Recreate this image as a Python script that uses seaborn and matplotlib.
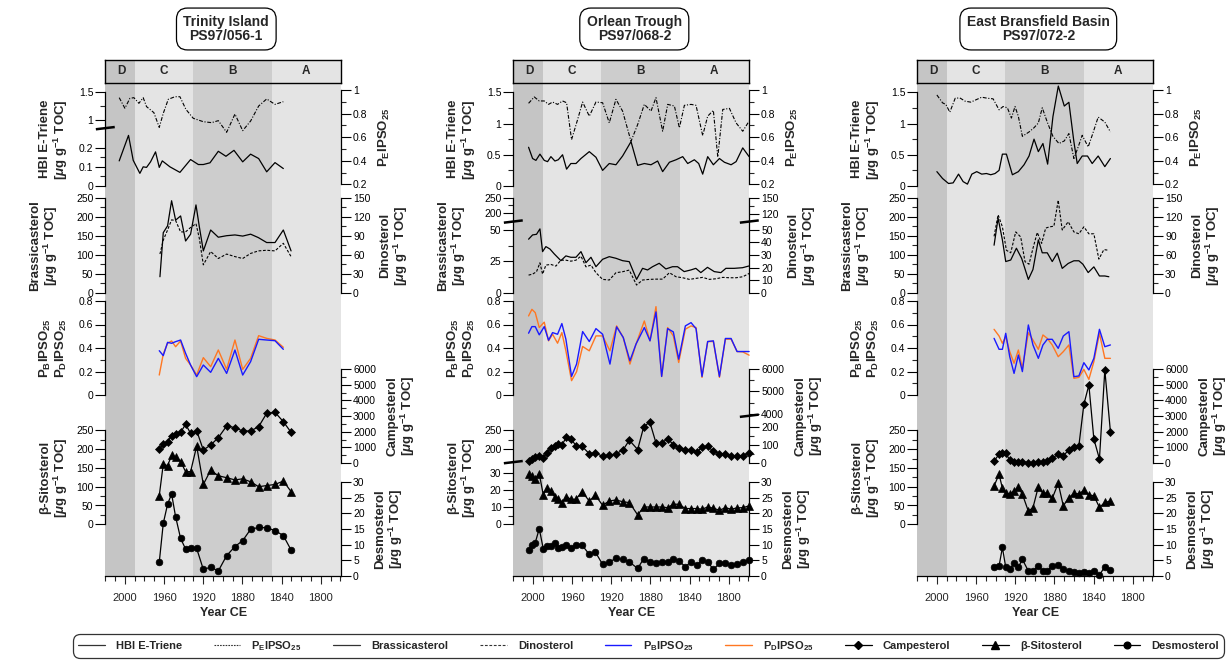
import numpy as np
import matplotlib
matplotlib.use("Agg")
import matplotlib.pyplot as plt
import seaborn as sns
from matplotlib.ticker import FixedLocator, NullFormatter
from matplotlib.lines import Line2D

sns.set_theme(style="white")
plt.rcParams['font.family'] = ['Liberation Sans', 'DejaVu Sans']
plt.rcParams['mathtext.fontset'] = 'custom'
plt.rcParams['mathtext.rm'] = 'Liberation Sans:bold'
plt.rcParams['mathtext.bf'] = 'Liberation Sans:bold'
plt.rcParams['mathtext.it'] = 'Liberation Sans:italic:bold'

# ---------------- DATA ----------------
titles = ["Trinity Island\nPS97/056-1", "Orlean Trough\nPS97/068-2", "East Bransfield Basin\nPS97/072-2"]
zone_edges = [2020, 1990, 1930, 1850, 1779]
zone_names = ["D", "C", "B", "A"]
zone_label_years = [2004, 1960, 1890, 1815]

# Panel 1 - Trinity Island
p1_hbi_year = [2005.8, 1996.3, 1991.5, 1984.7, 1981.3, 1977.9, 1973.8, 1968.7, 1964.9, 1961.8, 1954.0, 1943.8,
               1932.9, 1925.0, 1919.9, 1913.1, 1904.6, 1896.8, 1888.6, 1879.7, 1871.6, 1863.4, 1855.2, 1846.7, 1838.2]
p1_hbi = [0.131, 0.264, 0.134, 0.066, 0.100, 0.097, 0.126, 0.178, 0.097, 0.131, 0.100, 0.071,
          0.138, 0.112, 0.112, 0.121, 0.181, 0.155, 0.186, 0.126, 0.166, 0.143, 0.074, 0.122, 0.091]
p1_pe_year = [2005.8, 2000.0, 1994.9, 1990.8, 1985.7, 1981.3, 1977.9, 1970.4, 1964.9, 1960.8, 1955.7, 1948.9,
              1943.8, 1937.7, 1930.2, 1919.9, 1911.4, 1904.6, 1896.1, 1887.6, 1879.7, 1871.6, 1863.4, 1855.2, 1846.7, 1838.2]
p1_pe = [0.935, 0.845, 0.929, 0.935, 0.887, 0.935, 0.859, 0.808, 0.683, 0.802, 0.921, 0.943,
         0.943, 0.836, 0.760, 0.731, 0.723, 0.740, 0.641, 0.796, 0.655, 0.737, 0.864, 0.924, 0.878, 0.901]
p1_bras_year = [1964.2, 1960.8, 1956.4, 1952.3, 1948.2, 1943.1, 1938.0, 1932.9, 1927.4, 1924.0, 1919.9,
                1912.4, 1904.6, 1896.1, 1887.6, 1879.7, 1871.6, 1863.7, 1855.2, 1846.7, 1838.2, 1830.3]
p1_bras = [42, 158, 176, 242, 191, 202, 136, 154, 231, 174, 110, 165, 146, 150, 152, 149, 154, 145, 132, 132, 165, 110]
p1_dino = [61, 83, 99, 115, 114, 96, 96, 103, 109, 86, 44, 65, 54, 61, 57, 54, 62, 66, 67, 66, 78, 57]
p1_ipso_year = [1964.9, 1960.8, 1956.4, 1952.3, 1948.2, 1943.1, 1938.0, 1932.9, 1926.7, 1919.9,
                1912.4, 1904.6, 1896.1, 1887.6, 1879.7, 1871.6, 1863.4, 1855.2, 1846.7, 1838.2]
p1_pb = [0.377, 0.335, 0.448, 0.440, 0.454, 0.468, 0.355, 0.255, 0.156, 0.255,
         0.193, 0.312, 0.184, 0.383, 0.170, 0.284, 0.474, 0.468, 0.462, 0.389]
p1_pd = [0.170, 0.349, 0.440, 0.460, 0.411, 0.460, 0.312, 0.255, 0.170, 0.318,
         0.241, 0.383, 0.218, 0.468, 0.218, 0.312, 0.505, 0.482, 0.468, 0.406]
p1_ster_year = [1964.9, 1960.8, 1956.4, 1952.3, 1948.2, 1943.1, 1938.0, 1932.9, 1926.7, 1919.9, 1912.4,
                1904.6, 1896.1, 1887.6, 1879.7, 1871.6, 1863.4, 1855.2, 1846.7, 1838.2, 1830.3]
p1_camp = [872, 1213, 1362, 1745, 1851, 1958, 2468, 1894, 2064, 830, 1149,
           1617, 2362, 2256, 2043, 2043, 2320, 3171, 3235, 2639, 1958]
p1_sito = [76, 160, 156, 183, 180, 167, 140, 140, 208, 106, 144, 129, 124, 118, 121, 113, 100, 103, 106, 115, 87]
p1_desmo = [4.4, 16.8, 22.9, 26.2, 18.9, 12.0, 8.6, 8.8, 8.8, 2.1, 2.8, 1.6, 6.5, 9.4, 11.3, 14.9, 15.5, 15.4, 14.5, 12.9, 8.3]

# Panel 2 - Orlean Trough
p2_hbi_year = [2004.4, 2000.3, 1996.9, 1992.8, 1988.4, 1985.0, 1981.6, 1977.5, 1974.1, 1969.7, 1965.6, 1961.2,
               1956.0, 1950.9, 1942.4, 1935.6, 1928.8, 1922.0, 1915.2, 1908.4, 1899.8, 1893.0, 1886.2, 1879.4,
               1872.6, 1867.5, 1860.6, 1853.8, 1847.0, 1841.9, 1835.1, 1830.7, 1826.6, 1821.5, 1815.7, 1809.5,
               1804.4, 1797.6, 1792.5, 1785.7, 1779.2]
p2_hbi = [0.62, 0.44, 0.41, 0.51, 0.41, 0.39, 0.47, 0.40, 0.42, 0.50, 0.27, 0.36, 0.36, 0.44, 0.55, 0.46,
          0.25, 0.36, 0.34, 0.48, 0.71, 0.33, 0.36, 0.34, 0.40, 0.23, 0.38, 0.42, 0.47, 0.36, 0.42, 0.36,
          0.19, 0.47, 0.34, 0.44, 0.38, 0.34, 0.39, 0.61, 0.47]
p2_pe_year = [2004.4, 1998.6, 1993.5, 1988.4, 1984.0, 1979.9, 1974.8, 1969.7, 1965.6, 1960.5, 1954.3, 1949.2,
              1942.4, 1935.6, 1928.8, 1922.0, 1915.2, 1908.4, 1899.8, 1893.0, 1886.2, 1879.4, 1874.3, 1867.5,
              1862.3, 1855.5, 1850.4, 1845.3, 1838.5, 1833.4, 1826.6, 1821.5, 1815.7, 1811.2, 1806.1, 1799.3,
              1792.5, 1785.7, 1779.2]
p2_pe = [0.887, 0.941, 0.907, 0.907, 0.878, 0.898, 0.878, 0.907, 0.892, 0.579, 0.750, 0.898, 0.778,
         0.898, 0.892, 0.721, 0.921, 0.821, 0.565, 0.707, 0.878, 0.821, 0.935, 0.650, 0.878, 0.864,
         0.679, 0.870, 0.878, 0.870, 0.613, 0.778, 0.827, 0.431, 0.835, 0.844, 0.721, 0.650, 0.736]
p2_bras_year = [2004.4, 2000.3, 1996.3, 1992.8, 1990.1, 1986.7, 1982.6, 1978.2, 1971.4, 1966.3, 1961.2, 1956.0,
                1950.9, 1945.8, 1940.7, 1935.6, 1928.8, 1922.0, 1915.2, 1908.4, 1901.6, 1894.1, 1888.0, 1882.9,
                1877.8, 1871.0, 1864.2, 1857.4, 1852.3, 1845.5, 1838.7, 1833.6, 1828.5, 1821.7, 1814.8, 1808.0,
                1802.9, 1794.4, 1785.9, 1779.2]
p2_bras = [42.6, 46.0, 46.5, 50.8, 32.7, 36.7, 34.8, 30.9, 25.5, 29.3, 28.2, 28.2, 32.7, 23.9, 28.2, 20.7,
           26.6, 28.7, 27.4, 25.5, 24.7, 10.6, 19.4, 18.1, 20.7, 23.4, 18.9, 20.7, 20.7, 16.8, 18.1, 19.4,
           16.0, 20.2, 16.8, 16.0, 19.4, 19.4, 19.9, 21.3]
p2_dino_year = [2004.4, 2000.3, 1996.3, 1992.8, 1990.1, 1986.7, 1981.6, 1976.5, 1971.4, 1966.3, 1961.2, 1956.0,
                1950.9, 1945.8, 1940.7, 1935.6, 1928.8, 1922.0, 1915.2, 1908.4, 1901.6, 1894.1, 1888.0, 1881.2,
                1874.3, 1867.5, 1860.6, 1853.8, 1847.0, 1840.2, 1833.4, 1826.6, 1819.8, 1813.0, 1806.1, 1799.3,
                1792.5, 1785.7, 1779.2]
p2_dino = [14.0, 14.8, 16.7, 23.8, 14.8, 22.0, 22.5, 21.2, 25.9, 25.9, 25.1, 25.9, 29.1, 20.6, 22.0, 15.9,
           10.6, 10.1, 15.9, 16.7, 18.0, 6.1, 10.1, 10.6, 10.8, 10.8, 15.9, 12.7, 11.9, 10.6, 11.4, 12.2,
           10.6, 11.1, 12.2, 11.9, 11.9, 12.7, 15.3]
p2_ipso_year = [2004.4, 2001.0, 1997.6, 1993.5, 1988.4, 1984.0, 1979.9, 1974.8, 1970.4, 1966.3, 1960.5, 1955.4,
                1949.2, 1942.4, 1935.6, 1928.8, 1921.3, 1914.5, 1907.7, 1900.9, 1894.7, 1886.2, 1880.4, 1874.3,
                1868.5, 1862.4, 1856.6, 1851.1, 1844.3, 1838.5, 1833.4, 1827.3, 1821.5, 1815.7, 1809.5, 1803.4,
                1797.6, 1791.5, 1785.7, 1779.2]
p2_pb = [0.526, 0.582, 0.582, 0.512, 0.582, 0.466, 0.531, 0.517, 0.608, 0.475, 0.158, 0.263, 0.540, 0.455,
         0.565, 0.517, 0.263, 0.580, 0.489, 0.291, 0.433, 0.574, 0.461, 0.707, 0.158, 0.565, 0.537, 0.305,
         0.588, 0.616, 0.565, 0.158, 0.455, 0.461, 0.158, 0.481, 0.481, 0.370, 0.370, 0.370]
p2_pd = [0.673, 0.729, 0.701, 0.574, 0.620, 0.461, 0.517, 0.441, 0.531, 0.376, 0.122, 0.198, 0.413, 0.376,
         0.503, 0.503, 0.376, 0.588, 0.489, 0.263, 0.433, 0.630, 0.461, 0.752, 0.158, 0.574, 0.503, 0.277,
         0.560, 0.588, 0.574, 0.150, 0.455, 0.455, 0.150, 0.475, 0.475, 0.370, 0.367, 0.339]
p2_ster_year = [2004.4, 2001.0, 1997.6, 1993.5, 1989.4, 1986.0, 1981.9, 1977.9, 1974.1, 1970.0, 1965.9, 1961.2,
                1956.0, 1949.9, 1942.4, 1936.3, 1928.8, 1922.0, 1915.2, 1907.7, 1901.5, 1893.0, 1886.9, 1880.7,
                1874.3, 1868.5, 1862.4, 1856.6, 1851.1, 1844.3, 1838.5, 1832.7, 1827.3, 1821.5, 1815.7, 1809.5,
                1803.4, 1797.6, 1791.5, 1785.7, 1779.6]
p2_camp = [13, 22, 32, 37, 28, 56, 84, 93, 108, 103, 144, 135, 97, 93, 52, 56, 37, 43, 50, 75, 127, 75, 200,
           230, 112, 112, 135, 103, 84, 75, 75, 60, 88, 93, 65, 52, 52, 37, 37, 41, 56]
p2_sito = [29.2, 28.3, 26.3, 29.6, 17.2, 20.9, 19.5, 16.2, 15.0, 12.7, 16.2, 14.6, 14.6, 19.1, 13.6, 17.0,
           11.1, 13.6, 14.2, 13.1, 12.7, 5.5, 10.1, 10.1, 10.1, 10.1, 9.7, 11.7, 11.7, 9.2, 9.2, 9.2, 8.8,
           10.1, 9.4, 8.2, 9.7, 8.8, 9.6, 9.7, 10.7]
p2_desmo = [8.3, 9.8, 10.6, 15.1, 8.7, 9.6, 9.6, 10.4, 9.0, 9.4, 9.8, 9.0, 9.9, 9.9, 6.9, 7.7, 3.7, 4.5, 5.6,
            5.3, 4.5, 2.4, 5.5, 4.5, 4.3, 4.5, 4.5, 5.5, 4.8, 3.0, 4.5, 3.4, 5.1, 4.5, 2.1, 4.0, 4.3, 3.5,
            3.7, 4.5, 5.1]

# Panel 3 - East Bransfield Basin
p3_hbi_year = [2000.0, 1994.2, 1988.1, 1983.4, 1977.9, 1973.2, 1968.8, 1964.3, 1959.3, 1954.2, 1949.4, 1945.0,
               1940.6, 1936.5, 1933.1, 1929.0, 1922.9, 1916.8, 1911.0, 1905.9, 1900.8, 1896.4, 1891.7, 1886.9,
               1881.5, 1876.0, 1869.9, 1865.2, 1860.1, 1856.7, 1851.6, 1846.2, 1841.4, 1835.3, 1828.5, 1822.8]
p3_hbi = [0.23, 0.12, 0.04, 0.05, 0.19, 0.07, 0.03, 0.19, 0.23, 0.19, 0.20, 0.18, 0.20, 0.25, 0.51, 0.51,
          0.18, 0.23, 0.34, 0.48, 0.75, 0.55, 0.68, 0.35, 1.11, 1.60, 1.28, 1.34, 0.71, 0.36, 0.48, 0.48,
          0.36, 0.48, 0.31, 0.44]
p3_pe_year = [2000.0, 1994.2, 1990.8, 1986.8, 1981.3, 1976.6, 1971.1, 1965.4, 1960.3, 1954.2, 1948.4, 1942.6,
              1936.5, 1932.4, 1928.0, 1923.9, 1920.2, 1916.8, 1912.7, 1905.9, 1900.8, 1896.4, 1892.4, 1887.3,
              1881.5, 1875.4, 1869.9, 1865.2, 1860.1, 1855.7, 1851.6, 1845.5, 1841.4, 1835.3, 1828.5, 1822.8]
p3_pe = [0.958, 0.891, 0.877, 0.812, 0.930, 0.933, 0.905, 0.897, 0.916, 0.939, 0.930, 0.925, 0.832, 0.860,
         0.849, 0.762, 0.860, 0.776, 0.607, 0.644, 0.680, 0.720, 0.849, 0.728, 0.607, 0.546, 0.568, 0.630,
         0.419, 0.517, 0.616, 0.517, 0.616, 0.770, 0.728, 0.644]
p3_bras_year = [1941.6, 1937.5, 1933.1, 1929.7, 1924.6, 1918.8, 1913.4, 1906.6, 1901.9, 1896.4, 1892.4, 1887.3,
                1882.2, 1877.1, 1872.0, 1865.9, 1860.1, 1855.0, 1850.9, 1845.5, 1839.7, 1834.0, 1828.5, 1824.4]
p3_bras = [125, 196, 139, 82, 86, 117, 90, 35, 61, 139, 105, 105, 82, 104, 64, 77, 84, 84, 75, 53, 68, 44, 44, 42]
p3_dino_year = [1941.6, 1937.5, 1933.1, 1929.0, 1924.6, 1919.5, 1914.4, 1910.0, 1905.9, 1901.9, 1897.5, 1893.0,
                1888.9, 1884.9, 1880.5, 1876.1, 1872.0, 1865.9, 1860.1, 1855.0, 1849.9, 1844.8, 1839.7, 1834.6,
                1829.5, 1824.4]
p3_dino = [89, 123, 104, 67, 63, 96, 88, 49, 45, 70, 95, 78, 102, 104, 105, 146, 99, 112, 96, 93, 104, 93,
           93, 53, 68, 67]
p3_ster_year = [1941.6, 1936.5, 1933.1, 1929.7, 1925.6, 1921.2, 1916.8, 1912.7, 1906.6, 1901.9, 1896.4, 1891.7,
                1887.3, 1882.2, 1876.1, 1870.9, 1865.2, 1860.1, 1855.0, 1849.9, 1844.8, 1839.7, 1834.0, 1828.5,
                1822.8]
p3_pb = [0.482, 0.389, 0.389, 0.525, 0.326, 0.184, 0.340, 0.199, 0.596, 0.426, 0.312, 0.426, 0.474, 0.474,
         0.397, 0.502, 0.539, 0.156, 0.162, 0.275, 0.213, 0.312, 0.559, 0.411, 0.426]
p3_pd = [0.559, 0.502, 0.440, 0.496, 0.369, 0.270, 0.383, 0.227, 0.530, 0.468, 0.389, 0.511, 0.482, 0.426,
         0.326, 0.369, 0.426, 0.142, 0.150, 0.218, 0.133, 0.284, 0.525, 0.312, 0.312]
p3_camp = [128, 553, 660, 617, 192, 85, 85, 85, 21, 21, 85, 85, 149, 298, 575, 468, 830, 1000, 1107, 3745,
           4980, 1532, 255, 5937, 2000]
p3_sito = [102, 133, 96, 84, 80, 89, 98, 80, 35, 44, 100, 82, 84, 69, 109, 49, 71, 82, 81, 90, 78, 76, 45, 58, 62]
p3_desmo = [2.8, 3.2, 9.1, 2.8, 2.2, 4.0, 2.8, 5.3, 1.6, 1.6, 3.2, 1.6, 1.6, 3.2, 3.5, 2.1, 1.6, 1.2, 1.1, 1.2,
            1.1, 1.6, 0.3, 3.0, 1.9]

# ---------------- LAYOUT helpers ----------------
W, H = 1232, 660
fig = plt.figure(figsize=(W / 100, H / 100), dpi=100)

C_LIGHT = "#e4e4e4"
C_MID = "#cdcdcd"
C_DARK = "#c5c5c5"
zone_colors = [C_DARK, C_LIGHT, C_MID, C_LIGHT]
BLUE = "#1a1aff"
ORANGE = "#ff7722"
TICK_FS = 7.5
LAB_FS = 9.5
UG = "[$\\mu$g g$^{-1}$ TOC]"


def fig_rect(left, top, width, bottom):
    return [left / W, 1 - bottom / H, width / W, (bottom - top) / H]


def pw(xp, fp):
    xp = np.asarray(xp, float)
    fp = np.asarray(fp, float)

    def f(v):
        v = np.asarray(v, float)
        out = np.interp(v, xp, fp)
        s0 = (fp[1] - fp[0]) / (xp[1] - xp[0])
        s1 = (fp[-1] - fp[-2]) / (xp[-1] - xp[-2])
        out = np.where(v < xp[0], fp[0] + (v - xp[0]) * s0, out)
        out = np.where(v > xp[-1], fp[-1] + (v - xp[-1]) * s1, out)
        return out
    return f


def track(left, width, top, bottom, side, ylim, majors, minors, label, label_x,
          brk=None, fmt=None):
    ax = fig.add_axes(fig_rect(left, top, width, bottom))
    ax.patch.set_alpha(0)
    for s in ax.spines.values():
        s.set_visible(False)
    ax.spines[side].set_visible(True)
    ax.spines[side].set_linewidth(0.9)
    ax.spines[side].set_color("black")
    if brk is not None:
        dpts, spts = brk
        ax.set_yscale('function', functions=(pw(dpts, spts), pw(spts, dpts)))
    ax.set_xlim(zone_edges[0], zone_edges[-1])
    ax.set_ylim(*ylim)
    ax.xaxis.set_visible(False)
    ax.yaxis.set_ticks_position(side)
    ax.yaxis.set_label_position(side)
    ax.yaxis.set_major_locator(FixedLocator(majors))
    ax.yaxis.set_minor_locator(FixedLocator(minors))
    ax.yaxis.set_minor_formatter(NullFormatter())
    if fmt is not None:
        ax.set_yticklabels(fmt)
    ax.tick_params(axis='y', which='major', direction='out', length=7, width=0.8, pad=1.5,
                   labelsize=TICK_FS, colors='black')
    ax.tick_params(axis='y', which='minor', direction='out', length=3.5, width=0.8)
    ax.set_ylabel(label, fontsize=LAB_FS, fontweight='bold', linespacing=1.05)
    ax.yaxis.set_label_coords(label_x, 0.5)
    ax.grid(False)
    if brk is not None:
        dpts, spts = brk
        f = (spts[1] + spts[2]) / 2.0 / spts[-1]
        xs = 0.0 if side == 'left' else 1.0
        ax.plot([xs - 0.04, xs + 0.04], [f - 0.012, f + 0.012], transform=ax.transAxes,
                color='black', lw=1.8, clip_on=False, solid_capstyle='butt')
    return ax


def line(ax, x, y, color='black', ls='-', lw=0.9, marker=None, ms=4.5):
    sns.lineplot(x=x, y=y, ax=ax, color=color, linestyle=ls, linewidth=lw, sort=False,
                 estimator=None, marker=marker, markersize=ms, markeredgecolor=color,
                 markeredgewidth=0.5, legend=False)
    for l in ax.lines:
        l.set_clip_on(False)
    ax.set_xlabel("")


PE_LS = (0, (3.5, 1.5, 1, 1.5))
DINO_LS = (0, (2.5, 1.5))

# Vertical positions (pixels)
Y_HEADER = (60, 83)
Y_BOTTOM = 576
T_HBI = (92.3, 186)
T_PE = (90, 184.3)
T_BRAS = (197.7, 292.7)
T_IPSO = (301, 395)
T_CAMP = (369, 463)
T_SITO = (430.3, 524.3)
T_DESMO = (482, 576)

panels = [
    dict(left=105.3, data=dict(hbi=(p1_hbi_year, p1_hbi), pe=(p1_pe_year, p1_pe),
                               bras=(p1_bras_year, p1_bras), dino=(p1_bras_year, p1_dino),
                               pb=(p1_ipso_year, p1_pb), pd=(p1_ipso_year, p1_pd),
                               camp=(p1_ster_year, p1_camp), sito=(p1_ster_year, p1_sito),
                               desmo=(p1_ster_year, p1_desmo))),
    dict(left=513.3, data=dict(hbi=(p2_hbi_year, p2_hbi), pe=(p2_pe_year, p2_pe),
                               bras=(p2_bras_year, p2_bras), dino=(p2_dino_year, p2_dino),
                               pb=(p2_ipso_year, p2_pb), pd=(p2_ipso_year, p2_pd),
                               camp=(p2_ster_year, p2_camp), sito=(p2_ster_year, p2_sito),
                               desmo=(p2_ster_year, p2_desmo))),
    dict(left=917.3, data=dict(hbi=(p3_hbi_year, p3_hbi), pe=(p3_pe_year, p3_pe),
                               bras=(p3_bras_year, p3_bras), dino=(p3_dino_year, p3_dino),
                               pb=(p3_ster_year, p3_pb), pd=(p3_ster_year, p3_pd),
                               camp=(p3_ster_year, p3_camp), sito=(p3_ster_year, p3_sito),
                               desmo=(p3_ster_year, p3_desmo))),
]
PW = 236.0

for i, p in enumerate(panels):
    L = p['left']
    d = p['data']
    # background
    bg = fig.add_axes(fig_rect(L, Y_HEADER[1], PW, Y_BOTTOM))
    for k in range(4):
        bg.axvspan(zone_edges[k], zone_edges[k + 1], color=zone_colors[k], lw=0)
    bg.set_xlim(zone_edges[0], zone_edges[-1])
    bg.set_ylim(0, 1)
    for s in ['left', 'right', 'top']:
        bg.spines[s].set_visible(False)
    bg.spines['bottom'].set_color('black')
    bg.spines['bottom'].set_linewidth(0.9)
    bg.set_yticks([])
    bg.xaxis.set_major_locator(FixedLocator(np.arange(2000, 1779, -40)))
    bg.xaxis.set_minor_locator(FixedLocator(np.arange(2020, 1779, -10)))
    bg.tick_params(axis='x', which='major', direction='out', length=6, width=0.8, labelsize=TICK_FS + 0.5,
                   pad=6, bottom=True)
    bg.tick_params(axis='x', which='minor', direction='out', length=3.5, width=0.8, bottom=True)
    bg.set_xlabel("Year CE", fontsize=LAB_FS - 0.5, fontweight='bold', labelpad=3)
    bg.grid(False)

    # header
    hd = fig.add_axes(fig_rect(L, Y_HEADER[0], PW, Y_HEADER[1]))
    for k in range(4):
        hd.axvspan(zone_edges[k], zone_edges[k + 1], color=zone_colors[k], lw=0)
        hd.text(zone_label_years[k], 0.5, zone_names[k], ha='center', va='center',
                fontsize=8.5, fontweight='bold')
    hd.set_xlim(zone_edges[0], zone_edges[-1])
    hd.set_ylim(0, 1)
    hd.set_xticks([]); hd.set_yticks([])
    for s in hd.spines.values():
        s.set_color('black'); s.set_linewidth(1.0); s.set_visible(True)

    # title
    fig.text((L + PW / 2 + 3) / W, 1 - 29 / H, titles[i], ha='center', va='center', fontsize=10,
             fontweight='bold', linespacing=1.0,
             bbox=dict(boxstyle='round,pad=0.5,rounding_size=0.8', fc='white', ec='black', lw=0.9))

    # HBI E-Triene
    if i == 0:
        ax = track(L, PW, *T_HBI, 'left', (0, 1.5), [0, 0.1, 0.2, 1, 1.5], [0.05, 0.15, 1.25],
                   "HBI E-Triene\n" + UG, -0.15, brk=([0, 0.3, 0.87, 1.5], [0, 172.5, 174.5, 281]),
                   fmt=["0", "0.1", "0.2", "1", "1.5"])
    else:
        ax = track(L, PW, *T_HBI, 'left', (0, 1.5), [0, 0.5, 1, 1.5], [0.25, 0.75, 1.25],
                   "HBI E-Triene\n" + UG, -0.15, fmt=["0", "0.5", "1", "1.5"])
    line(ax, *d['hbi'])

    ax = track(L, PW, *T_PE, 'right', (0.2, 1.0), [0.2, 0.4, 0.6, 0.8, 1.0], [0.3, 0.5, 0.7, 0.9],
               "P$_\\mathregular{E}$IPSO$_{25}$", 1.15, fmt=["0.2", "0.4", "0.6", "0.8", "1"])
    line(ax, *d['pe'], ls=PE_LS, lw=0.8)

    # Brassicasterol / Dinosterol
    if i == 1:
        ax = track(L, PW, *T_BRAS, 'left', (0, 250), [0, 25, 50, 200, 250], [12.5, 37.5, 225],
                   "Brassicasterol\n" + UG, -0.19, brk=([0, 56, 176, 250], [0, 211, 216, 285]),
                   fmt=["0", "25", "50", "200", "250"])
        line(ax, *d['bras'])
        ax = track(L, PW, *T_BRAS, 'right', (0, 150), [0, 10, 20, 30, 40, 50, 120, 150], [135],
                   "Dinosterol\n" + UG, 1.16, brk=([0, 56, 107, 150], [0, 211, 216, 285]),
                   fmt=["0", "10", "20", "30", "40", "50", "120", "150"])
        line(ax, *d['dino'], ls=DINO_LS, lw=0.8)
    else:
        ax = track(L, PW, *T_BRAS, 'left', (0, 250), [0, 50, 100, 150, 200, 250],
                   [25, 75, 125, 175, 225], "Brassicasterol\n" + UG, -0.19)
        line(ax, *d['bras'])
        ax = track(L, PW, *T_BRAS, 'right', (0, 150), [0, 30, 60, 90, 120, 150],
                   [15, 45, 75, 105, 135], "Dinosterol\n" + UG, 1.16)
        line(ax, *d['dino'], ls=DINO_LS, lw=0.8)

    # PB / PD IPSO25
    ax = track(L, PW, *T_IPSO, 'left', (0, 0.8), [0, 0.2, 0.4, 0.6, 0.8], [0.1, 0.3, 0.5, 0.7],
               "P$_\\mathregular{B}$IPSO$_{25}$\nP$_\\mathregular{D}$IPSO$_{25}$", -0.155,
               fmt=["0", "0.2", "0.4", "0.6", "0.8"])
    line(ax, *d['pd'], color=ORANGE, lw=1.0)
    line(ax, *d['pb'], color=BLUE, lw=1.0)

    # Campesterol
    if i == 1:
        ax = track(L, PW, *T_CAMP, 'right', (0, 6000), [0, 100, 200, 4000, 5000, 6000], [50, 150, 4500, 5500],
                   "Campesterol\n" + UG, 1.19, brk=([0, 262, 3926, 6000], [0, 140, 141.5, 280]),
                   fmt=["0", "100", "200", "4000", "5000", "6000"])
    else:
        ax = track(L, PW, *T_CAMP, 'right', (0, 6000), list(range(0, 6001, 1000)),
                   list(range(500, 6000, 1000)), "Campesterol\n" + UG, 1.19)
    line(ax, *d['camp'], marker='D', ms=4.2)

    # beta-Sitosterol
    if i == 1:
        ax = track(L, PW, *T_SITO, 'left', (0, 250), [0, 10, 20, 30, 200, 250], [5, 15, 25, 225],
                   "β-Sitosterol\n" + UG, -0.15, brk=([0, 36, 167, 250], [0, 185, 188, 282]),
                   fmt=["0", "10", "20", "30", "200", "250"])
    else:
        ax = track(L, PW, *T_SITO, 'left', (0, 250), [0, 50, 100, 150, 200, 250],
                   [25, 75, 125, 175, 225], "β-Sitosterol\n" + UG, -0.15)
    line(ax, *d['sito'], marker='^', ms=5.5)

    # Desmosterol
    ax = track(L, PW, *T_DESMO, 'right', (0, 30), [0, 5, 10, 15, 20, 25, 30], [],
               "Desmosterol\n" + UG, 1.14)
    line(ax, *d['desmo'], marker='o', ms=4.8)

# ---------------- LEGEND ----------------
handles = [
    Line2D([], [], color='#333333', lw=0.9),
    Line2D([], [], color='#333333', lw=0.8, ls=(0, (1.5, 1))),
    Line2D([], [], color='#333333', lw=0.9),
    Line2D([], [], color='#333333', lw=0.8, ls=DINO_LS),
    Line2D([], [], color=BLUE, lw=1.0),
    Line2D([], [], color=ORANGE, lw=1.0),
    Line2D([], [], color='black', lw=0.9, marker='D', ms=4.2),
    Line2D([], [], color='black', lw=0.9, marker='^', ms=5.5),
    Line2D([], [], color='black', lw=0.9, marker='o', ms=4.8),
]
labels = ["HBI E-Triene", "P$_\\mathregular{E}$IPSO$_{25}$", "Brassicasterol", "Dinosterol",
          "P$_\\mathregular{B}$IPSO$_{25}$", "P$_\\mathregular{D}$IPSO$_{25}$", "Campesterol",
          "β-Sitosterol", "Desmosterol"]
leg = fig.legend(handles, labels, ncol=9, loc='lower left', mode='expand',
                 bbox_to_anchor=(73 / W, 2 / H, 1151 / W, 27 / H), frameon=True, fancybox=True,
                 prop=dict(size=8, weight='bold'), handlelength=2.4, handletextpad=1.0,
                 borderaxespad=0, borderpad=0.45)
leg.get_frame().set_edgecolor('black')
leg.get_frame().set_linewidth(0.9)
leg.get_frame().set_boxstyle('round,pad=0,rounding_size=0.6')

fig.savefig("out.png", dpi=100)
